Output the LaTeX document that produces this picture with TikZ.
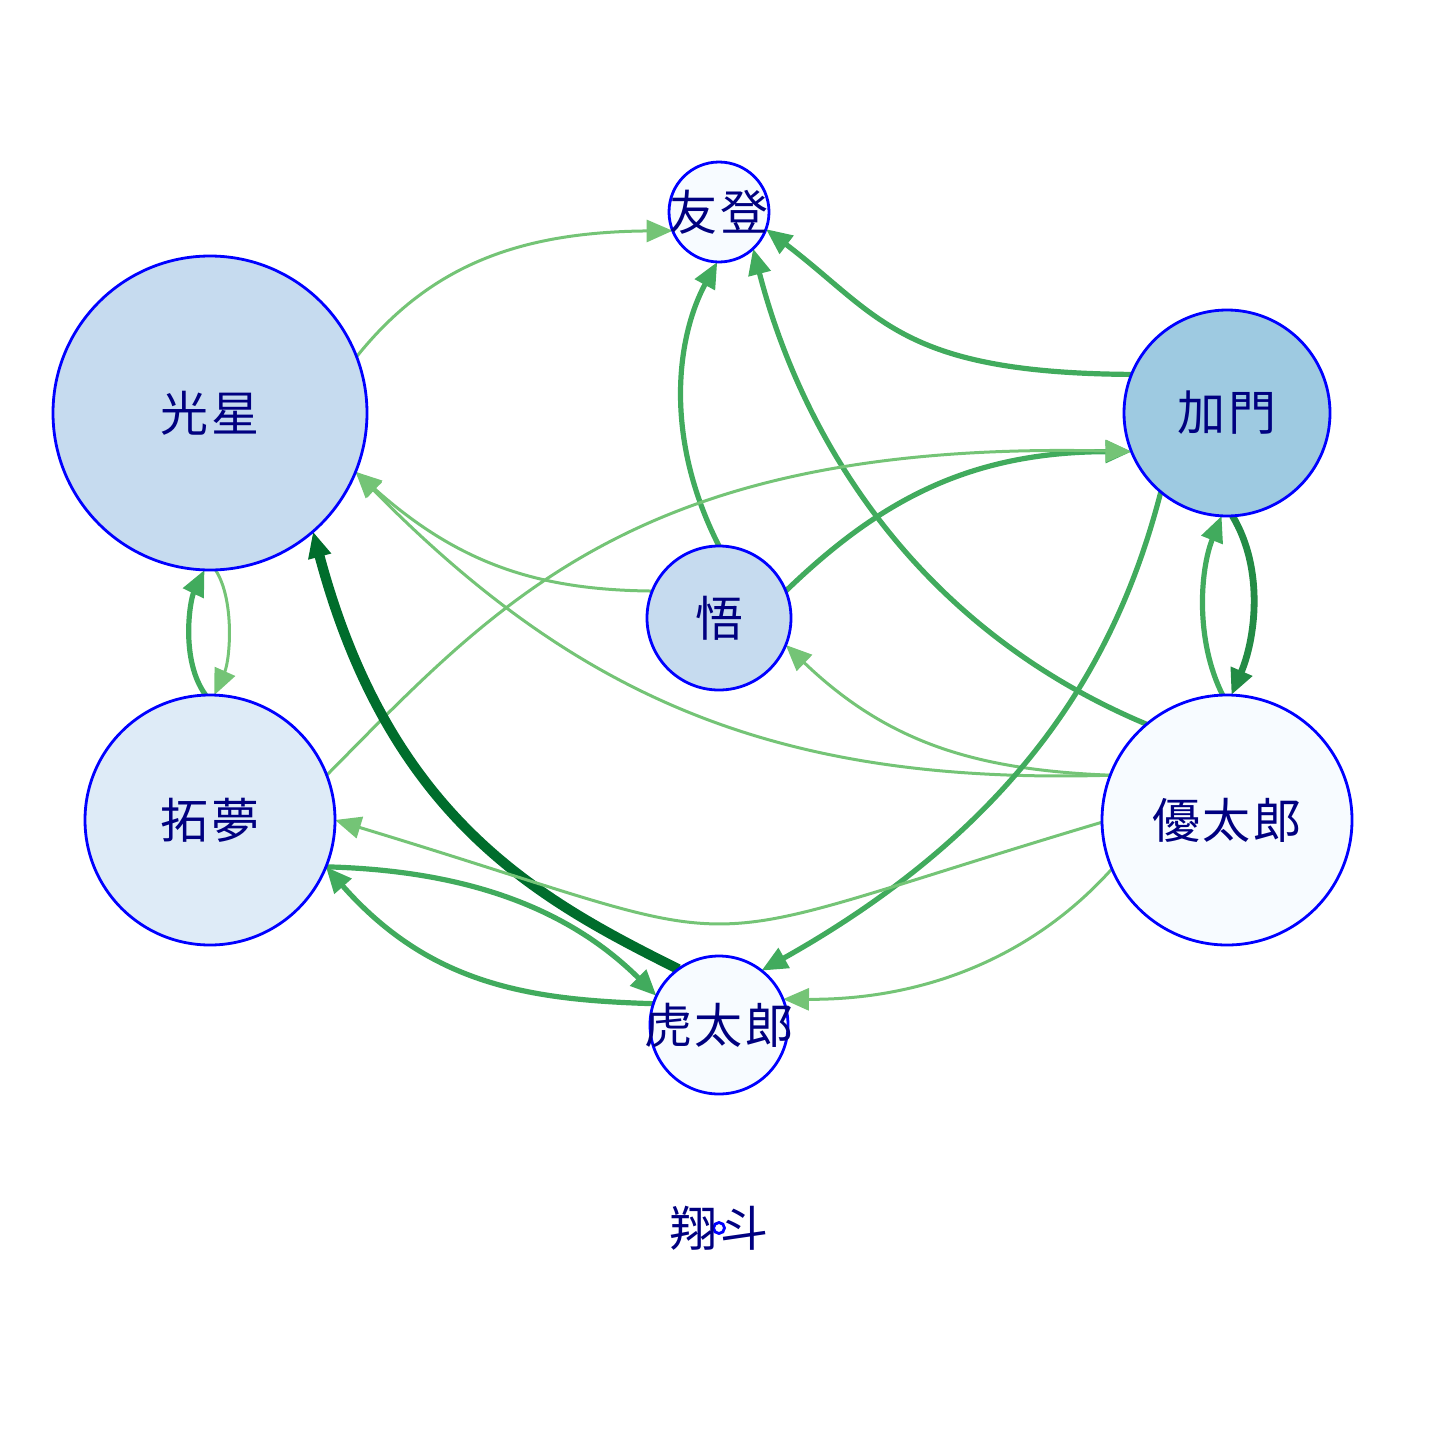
\documentclass[tikz,border=0pt]{standalone}
\usepackage{fontspec}
\newfontfamily\cjkfont[LetterSpace=5]{Noto Sans CJK JP}
\usetikzlibrary{arrows.meta,backgrounds}
\definecolor{g1}{HTML}{74C476}
\definecolor{g2}{HTML}{41AB5D}
\definecolor{g3}{HTML}{238B45}
\definecolor{g4}{HTML}{006D2C}
\definecolor{navyc}{HTML}{000080}
\definecolor{f1}{HTML}{C6DBEF}
\definecolor{f2}{HTML}{9ECAE1}
\definecolor{f3}{HTML}{DEEBF7}
\definecolor{f4}{HTML}{F7FBFF}
\definecolor{vborder}{HTML}{0000FF}
\tikzset{
  vtx/.style={circle, draw=vborder, line width=2.8pt, inner sep=0pt, outer sep=0pt},
  lbl/.style={inner sep=0pt, text=navyc, font=\cjkfont\fontsize{48}{52}\selectfont},
  tipA/.style={-{Triangle[length=26pt,width=22pt]}},
  e1/.style={tipA, draw=g1, line width=3pt},
  e2/.style={tipA, draw=g2, line width=5.2pt},
  e3/.style={tipA, draw=g3, line width=6.8pt},
  e4/.style={tipA, draw=g4, line width=10pt},
}
\begin{document}
\begin{tikzpicture}[x=1pt,y=-1pt]
\useasboundingbox (0,0) rectangle (1440,1440);
% vertices
\node[vtx, fill=f4, minimum size=100pt] (T) at (719,212) {};
\node[vtx, fill=f1, minimum size=314pt] (K) at (210,413) {};
\node[vtx, fill=f2, minimum size=206pt] (M) at (1227,413) {};
\node[vtx, fill=f1, minimum size=144pt] (S) at (719,618) {};
\node[vtx, fill=f3, minimum size=250pt] (R) at (210,820) {};
\node[vtx, fill=f4, minimum size=250pt] (Y) at (1227,820) {};
\node[vtx, fill=f4, minimum size=138pt] (Ko) at (719,1025) {};
\node[vtx, fill=f4, minimum size=11pt] (H) at (719,1228) {};
% labels
\node[lbl] (Tl) at (T) {友登};
\node[lbl] (Kl) at (K) {光星};
\node[lbl] (Ml) at (M) {加門};
\node[lbl] (Sl) at (S) {悟};
\node[lbl] (Rl) at (R) {拓夢};
\node[lbl] (Yl) at (Y) {優太郎};
\node[lbl] (Kol) at (Ko) {虎太郎};
\node[lbl] (Hl) at (H) {翔斗};
% edges
\begin{pgfonlayer}{background}
\draw[e1] (K.21) .. controls (430,265) and (520,232) .. (T.-158);
\draw[e2] (M.158) .. controls (900,373) and (880,316) .. (T.-20);
\draw[e2] (S.90) .. controls (660,430) and (680,330) .. (T.-92);
\draw[e2] (Y.130) .. controls (910,625) and (800,430) .. (T.-47);
\draw[e2] (S.22) .. controls (880,500) and (970,452) .. (M.-158);
\draw[e1] (R.21) .. controls (500,600) and (640,440) .. (M.-158);
\draw[e1] (S.158) .. controls (540,590) and (460,565) .. (K.-22);
\draw[e1] (Y.159) .. controls (780,785) and (580,700) .. (K.-22);
\draw[e1] (Y.159) .. controls (980,770) and (890,745) .. (S.-22);
\draw[e2] (M.-130) .. controls (1120,650) and (1030,820) .. (Ko.52);
\draw[e2] (Y.92) .. controls (1195,640) and (1200,570) .. (M.-93);
\draw[e3] (M.-87) .. controls (1265,570) and (1255,640) .. (Y.88);
\draw[e2] (R.92) .. controls (180,660) and (190,600) .. (K.-92);
\draw[e1] (K.-88) .. controls (235,600) and (230,660) .. (R.88);
\draw[e4] (Ko.126) .. controls (540,900) and (390,820) .. (K.-49);
\draw[e2] (R.-22) .. controls (450,870) and (560,900) .. (Ko.155);
\draw[e2] (Ko.162) .. controls (530,1000) and (430,985) .. (R.-22);
\draw[e1] (Y.-179) .. controls (650,957) and (787,957) .. (R.0);
\draw[e1] (Y.-157) .. controls (1030,960) and (920,1000) .. (Ko.22);
\end{pgfonlayer}
\end{tikzpicture}
\end{document}
